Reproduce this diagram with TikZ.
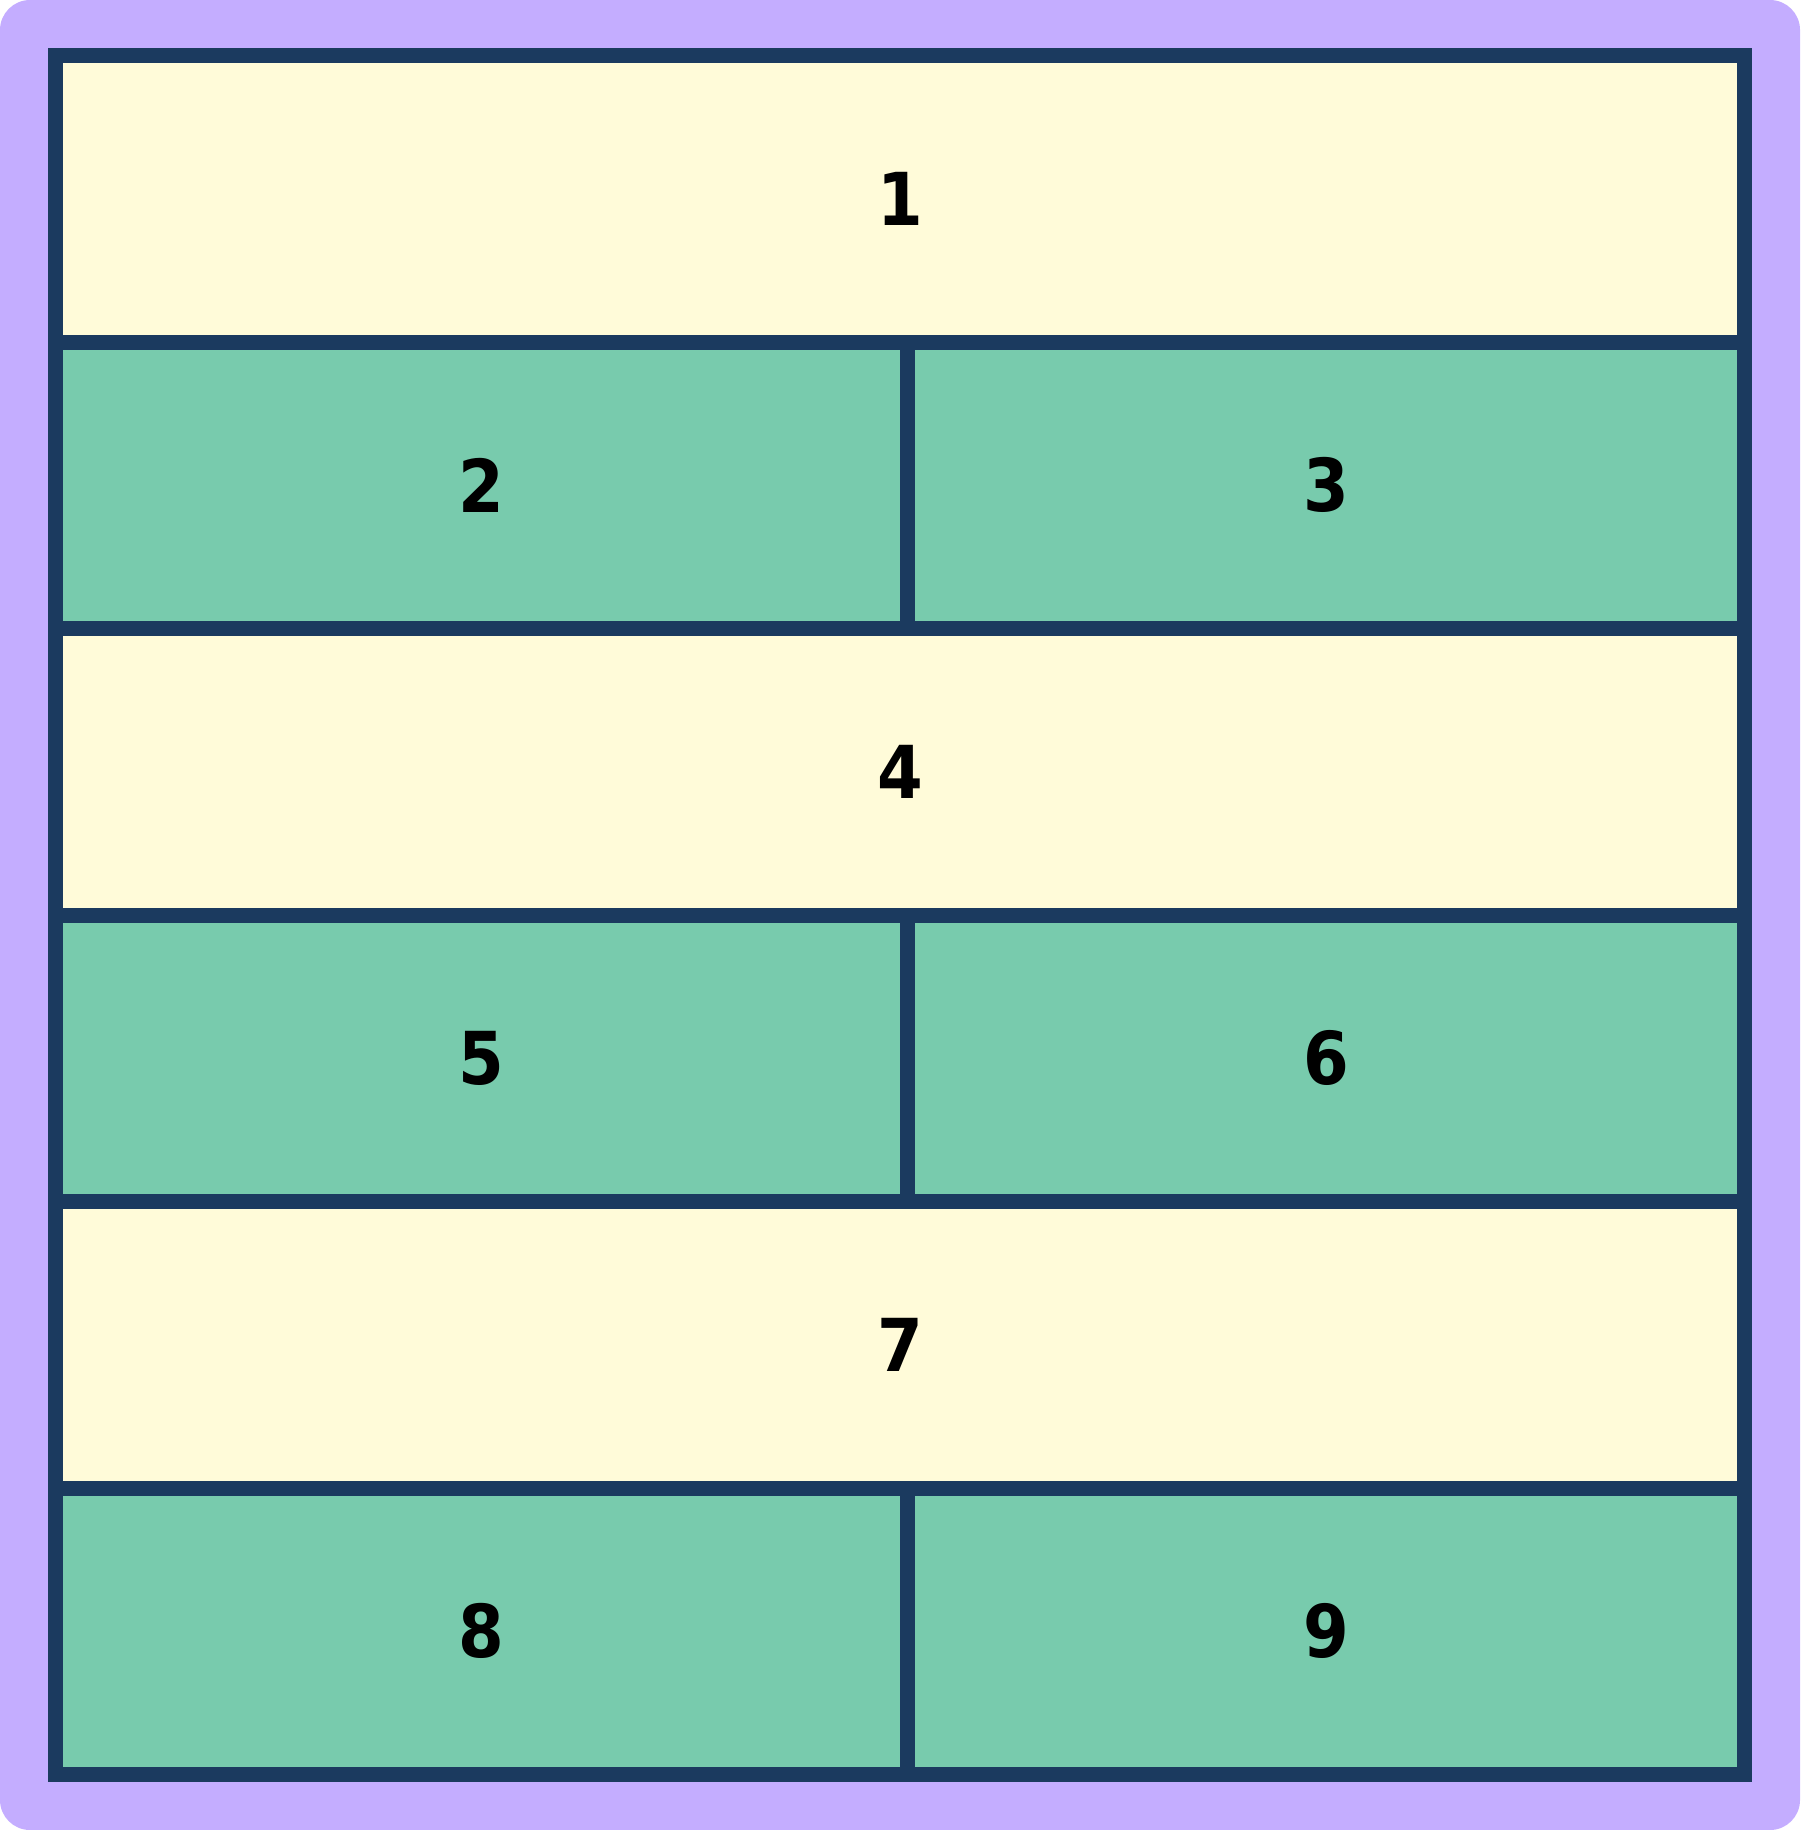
\documentclass[tikz,border=0pt]{standalone}
\usepackage{fontspec}
\setmainfont{DejaVu Sans Condensed}
\usetikzlibrary{positioning}

\definecolor{framepurple}{HTML}{C4ADFF}
\definecolor{gridnavy}{HTML}{1B3A5F}
\definecolor{cellcream}{HTML}{FFFBD9}
\definecolor{cellgreen}{HTML}{78CBAD}

\begin{document}
\begin{tikzpicture}[
                x = 0.5pt, y = -0.5pt, % one unit per pixel, y downwards
                node distance = 0pt, % cells share their borders
                cell/.style = {draw = gridnavy, line width = 7.5pt, rectangle,
                    outer sep = 0pt, inner sep = 0pt, minimum height = 143.25pt,
                    font = \fontsize{36.5}{40}\selectfont\bfseries},
                widecell/.style = {cell, fill = cellcream, minimum width = 844.5pt},
                halfleft/.style = {cell, fill = cellgreen, minimum width = 426pt},
                halfright/.style = {cell, fill = cellgreen, minimum width = 418.5pt}
            ]

            % background
            \fill[framepurple, rounded corners = 15pt] (0,0) rectangle (1800,1830);

            \node (1) [widecell] at (900,198.75) {1};
            \node (2) [halfleft, below right = of 1.south west] {2};
            \node (3) [halfright, right = of 2] {3};
            \node (4) [widecell, below right = of 2.south west] {4};
            \node (5) [halfleft, below right = of 4.south west] {5};
            \node (6) [halfright, right = of 5] {6};
            \node (7) [widecell, below right = of 5.south west] {7};
            \node (8) [halfleft, below right = of 7.south west] {8};
            \node (9) [halfright, right = of 8] {9};

        \end{tikzpicture}
\end{document}
